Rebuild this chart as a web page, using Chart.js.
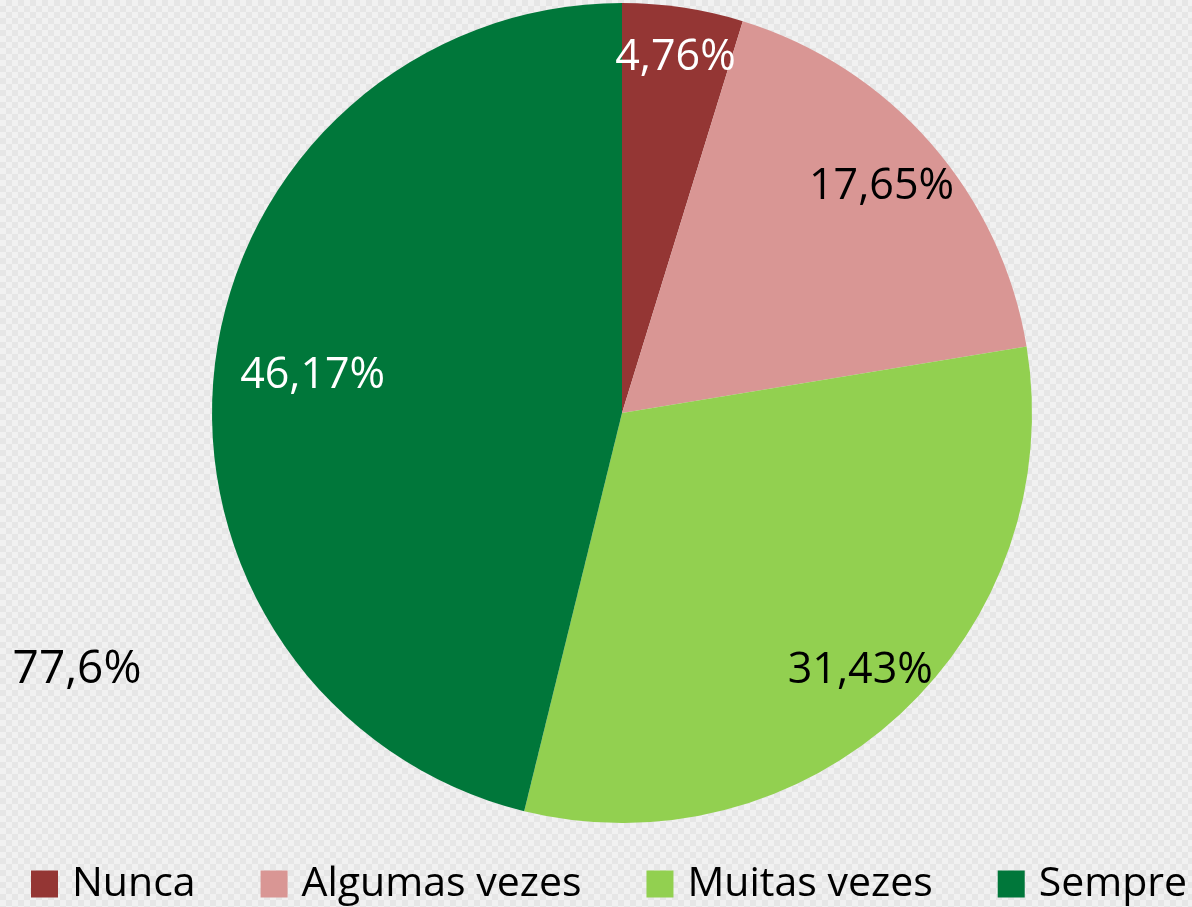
<!DOCTYPE html>
<html>
<head>
<meta charset="utf-8">
<script src="https://cdn.jsdelivr.net/npm/chart.js@4.4.0/dist/chart.umd.min.js"></script>
<style>
  html, body { margin: 0; padding: 0; }
  body {
    width: 1192px; height: 907px; overflow: hidden;
    background-color: #f1f1f1;
    background-image:
      linear-gradient(45deg, #e6e6e6 25%, transparent 25%, transparent 75%, #e6e6e6 75%),
      linear-gradient(45deg, #e6e6e6 25%, transparent 25%, transparent 75%, #e6e6e6 75%);
    background-size: 12px 12px;
    background-position: 0 0, 6px 6px;
  }
  #wrap { position: relative; width: 1192px; height: 907px; }
</style>
</head>
<body>
<div id="wrap"><canvas id="pie"></canvas></div>
<script>
// ---- data ----
const categories = ['Nunca', 'Algumas vezes', 'Muitas vezes', 'Sempre'];
const values = [4.76, 17.65, 31.43, 46.17];
const valueLabels = ['4,76%', '17,65%', '31,43%', '46,17%'];
const extraLabel = '77,6%';

// ---- styles ----
const colors = ['#943634', '#D99694', '#92D050', '#00773A'];
const labelColors = ['#ffffff', '#000000', '#000000', '#ffffff'];
const labelRadius = [0.876, 0.84, 0.856, 0.76];
const FONT = '"Open Sans", "Liberation Sans", sans-serif';

// draws the percentage text on each slice
const sliceLabels = {
  id: 'sliceLabels',
  afterDatasetsDraw(chart) {
    const ctx = chart.ctx;
    const arcs = chart.getDatasetMeta(0).data;
    ctx.save();
    ctx.font = '43px ' + FONT;
    ctx.textAlign = 'center';
    ctx.textBaseline = 'middle';
    arcs.forEach((arc, i) => {
      const p = arc.getProps(['x', 'y', 'startAngle', 'endAngle', 'outerRadius'], true);
      const mid = (p.startAngle + p.endAngle) / 2;
      const r = p.outerRadius * labelRadius[i];
      ctx.fillStyle = labelColors[i];
      ctx.fillText(valueLabels[i], p.x + Math.cos(mid) * r, p.y + Math.sin(mid) * r);
    });
    // loose text label to the left of the pie
    ctx.font = '46px ' + FONT;
    ctx.fillStyle = '#000000';
    ctx.fillText(extraLabel, 77, 670);
    ctx.restore();
  }
};

// legend row along the bottom
const bottomLegend = {
  id: 'bottomLegend',
  afterDraw(chart) {
    const ctx = chart.ctx;
    ctx.save();
    ctx.font = '41px ' + FONT;
    ctx.textBaseline = 'middle';
    ctx.textAlign = 'left';
    let x = 31;
    const y = 884;
    categories.forEach((name, i) => {
      ctx.fillStyle = colors[i];
      ctx.fillRect(x, y - 13.5, 27, 27);
      ctx.fillStyle = '#000000';
      ctx.fillText(name, x + 41, y);
      x += 41 + ctx.measureText(name).width + 65;
    });
    ctx.restore();
  }
};

new Chart(document.getElementById('pie'), {
  type: 'pie',
  data: {
    labels: categories,
    datasets: [{
      data: values,
      backgroundColor: colors,
      borderWidth: 0,
    }],
  },
  options: {
    responsive: true,
    maintainAspectRatio: false,
    animation: false,
    layout: { padding: { left: 52, top: 3, right: 0, bottom: 84 } },
    plugins: {
      legend: { display: false },
      tooltip: { enabled: false },
    },
  },
  plugins: [sliceLabels, bottomLegend],
});
</script>
</body>
</html>
